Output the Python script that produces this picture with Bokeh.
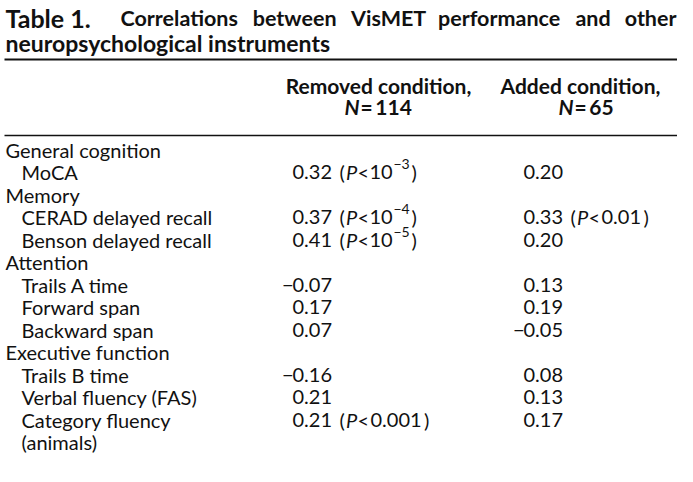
from bokeh.plotting import figure
from bokeh.models import Range1d
from bokeh.embed import file_html
from bokeh.resources import INLINE
from bokeh.core.properties import value

# ---------------- data ----------------
title_lead = "Table 1."
title_words = ["Correlations", "between", "VisMET", "performance", "and", "other"]
title_line2 = "neuropsychological instruments"
col_headers = ["Removed condition,", "Added condition,"]
col_n = ["114", "65"]

row_labels = ["General cognition", "MoCA", "Memory", "CERAD delayed recall",
              "Benson delayed recall", "Attention", "Trails A time", "Forward span",
              "Backward span", "Executive function", "Trails B time",
              "Verbal fluency (FAS)", "Category fluency", "(animals)"]
row_indent = [0, 1, 0, 1, 1, 0, 1, 1, 1, 0, 1, 1, 1, 1]

removed_r = ["", "0.32", "", "0.37", "0.41", "", "-0.07", "0.17", "0.07", "",
             "-0.16", "0.21", "0.21", ""]
removed_p = ["", "10^-3", "", "10^-4", "10^-5", "", "", "", "", "", "", "", "0.001", ""]
added_r = ["", "0.20", "", "0.33", "0.20", "", "0.13", "0.19", "-0.05", "",
           "0.08", "0.13", "0.17", ""]
added_p = ["", "", "", "0.01", "", "", "", "", "", "", "", "", "", ""]

# ---------------- layout / style ----------------
FONT = "Lato"
BODY_PX = 20
BODY = f"{BODY_PX}px"
SUP = "14px"
TITLE_PX = 21.5
TITLE = f"{TITLE_PX}px"
HEAD = "21px"
INK = "#111111"
W, H = 677, 466
LEFT, RIGHT = 12, 685
INDENT = 16
col_x = [300, 531]          # left edge of the digits in each value column
col_center = [386, 588]     # header centres
n_split = [367, 581]
row0, pitch = 157, 22.5

# rough advance widths (em) of Lato Bold, used only to justify the title line
EM = {c: 0.55 for c in "abcdeghknopqsuvxyz"}
EM.update({"i": 0.26, "l": 0.26, "j": 0.26, "f": 0.34, "r": 0.39, "t": 0.37,
           "m": 0.86, "w": 0.80, "s": 0.43, "c": 0.48, "e": 0.54, "a": 0.52,
           "C": 0.66, "V": 0.66, "M": 0.90, "E": 0.55, "T": 0.56})

def est_width(word, px):
    return sum(EM.get(ch, 0.55) for ch in word) * px

p = figure(width=W, height=H, x_range=Range1d(8, 8 + W), y_range=Range1d(8 + H, 8),
           output_backend="svg", toolbar_location=None, min_border=0)
p.axis.visible = False
p.grid.visible = False
p.outline_line_color = None
p.background_fill_color = "white"
p.border_fill_color = "white"

def txt(xs, ys, ts, size=BODY, style="normal", align="left", baseline="alphabetic"):
    p.text(x=xs, y=ys, text=ts, text_font=value(FONT), text_font_size=size,
           text_font_style=style, text_align=align, text_baseline=baseline,
           text_color=INK)

# ---- title (line 1 justified between the lead and the right edge) ----
txt([LEFT + 1], [25], [title_lead], size="25px", style="bold")
t_start, t_end = 128, 684
widths = [est_width(w, TITLE_PX) for w in title_words]
gap = (t_end - t_start - sum(widths)) / (len(title_words) - 1)
xs, cur = [], t_start
for wd in widths:
    xs.append(cur)
    cur += wd + gap
txt(xs[:-1], [25] * (len(title_words) - 1), title_words[:-1], size=TITLE, style="bold")
txt([t_end], [25], [title_words[-1]], size=TITLE, style="bold", align="right")
txt([LEFT + 1], [50], [title_line2], size="23px", style="bold")

# ---- rules ----
p.segment(x0=[LEFT], y0=[67], x1=[RIGHT], y1=[67], line_color=INK, line_width=2.2)
p.segment(x0=[LEFT], y0=[143], x1=[RIGHT], y1=[143], line_color=INK, line_width=1.6)

# ---- column headers ----
txt(col_center, [93, 93], col_headers, size=HEAD, style="bold", align="center")
txt(n_split, [114, 114], ["N", "N"], size=HEAD, style="bold italic", align="right")
txt([x + 1 for x in n_split], [114, 114], ["=\u2009" + n for n in col_n], size=HEAD, style="bold")

# ---- row labels ----
ys = [row0 + pitch * i for i in range(len(row_labels))]
txt([LEFT + 1 + INDENT * ind for ind in row_indent], ys, row_labels)

# ---- values ----
DIG = 0.58 * BODY_PX

def draw_column(cx, vals, pvals):
    for i, (v, pv) in enumerate(zip(vals, pvals)):
        if not v:
            continue
        y = ys[i]
        if v.startswith("-"):
            txt([cx + 1], [y], ["\u2212"], align="right")
            v = v[1:]
        txt([cx], [y], [v])
        if pv:
            txt([cx + 47], [y], ["("])
            txt([cx + 53.5], [y], ["P"], style="italic")
            txt([cx + 65], [y], ["<"])
            if pv.startswith("10^"):
                txt([cx + 77], [y], ["10"])
                txt([cx + 101], [y - 8], ["\u2212" + pv[4:]], size=SUP)
                txt([cx + 119], [y], [")"])
            else:
                txt([cx + 78], [y], [pv])
                w = DIG * (len(pv) - 1) + 0.26 * BODY_PX
                txt([cx + 80 + w], [y], [")"])

draw_column(col_x[0], removed_r, removed_p)
draw_column(col_x[1], added_r, added_p)

open("out.html", "w").write(file_html(p, INLINE))
